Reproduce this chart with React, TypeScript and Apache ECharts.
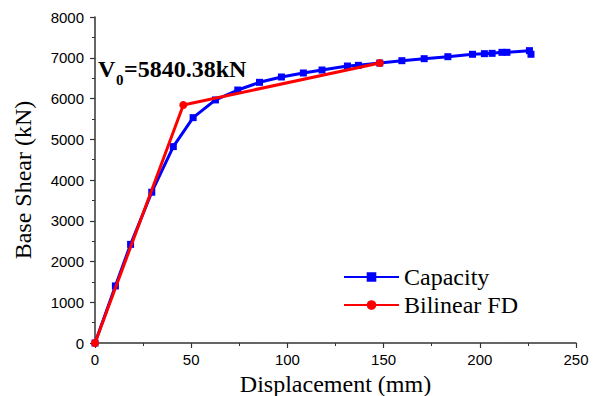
import React, { useEffect, useRef } from "react";
import * as echarts from "echarts";

const capacityX = [0, 10.6, 18.5, 29.5, 40.7, 51, 62.6, 74.2, 85.5, 96.9, 108.3, 118, 131.2, 136.9, 148, 159.5, 171.1, 183.4, 196.2, 202.4, 206.4, 211.5, 214.1, 225.8, 226.6];
const capacityY = [0, 1400, 2420, 3700, 4820, 5530, 5965, 6208, 6397, 6528, 6626, 6699, 6797, 6814, 6870, 6928, 6977, 7026, 7085, 7100, 7108, 7133, 7133, 7174, 7085];
const bilinearX = [0, 45.9, 148];
const bilinearY = [0, 5840.38, 6870];

const serif = "Liberation Serif";
const sans = "Liberation Sans";

export default function App() {
  const ref = useRef<HTMLDivElement>(null);
  useEffect(() => {
    if (!ref.current) return;
    const chart = echarts.init(ref.current, null, { renderer: "svg" });
    const axisCommon = {
      axisLine: { show: true, lineStyle: { color: "#333", width: 1.5 } },
      axisTick: { show: true, inside: false, length: 5, lineStyle: { color: "#333", width: 1.2 } },
      minorTick: { show: true, splitNumber: 2, length: 3, lineStyle: { color: "#333", width: 1 } },
      splitLine: { show: false },
      minorSplitLine: { show: false },
    };
    const nameStyle = { color: "#000", fontFamily: serif, fontSize: 24, fontWeight: "normal" };
    const labelCommon = {
      color: "#000",
      fontFamily: sans,
      fontSize: 15,
      formatter: (v: number) => String(v),
    };
    chart.setOption({
      animation: false,
      backgroundColor: "#fff",
      grid: { left: 95, right: 17, top: 17, bottom: 53, containLabel: false, outerBoundsMode: "none" },
      xAxis: {
        type: "value",
        min: 0,
        max: 250,
        interval: 50,
        name: "Displacement (mm)",
        nameLocation: "middle",
        nameGap: 23,
        nameTextStyle: nameStyle,
        ...axisCommon,
        axisLabel: { ...labelCommon, margin: 9 },
      },
      yAxis: {
        type: "value",
        min: 0,
        max: 8000,
        interval: 1000,
        name: "Base Shear (kN)",
        nameLocation: "middle",
        nameGap: 60,
        nameTextStyle: nameStyle,
        ...axisCommon,
        axisLabel: { ...labelCommon, margin: 11 },
      },
      legend: {
        orient: "vertical",
        left: 338,
        top: 260,
        itemWidth: 55,
        itemHeight: 12,
        itemGap: 4,
        textStyle: { fontFamily: serif, fontSize: 24, color: "#000" },
        data: ["Capacity", "Bilinear FD"],
      },
      series: [
        {
          name: "Capacity",
          type: "line",
          data: capacityX.map((x, i) => [x, capacityY[i]]),
          symbol: "rect",
          symbolSize: 7,
          lineStyle: { color: "#0000ff", width: 3 },
          itemStyle: { color: "#0000ff" },
          z: 2,
        },
        {
          name: "Bilinear FD",
          type: "line",
          data: bilinearX.map((x, i) => [x, bilinearY[i]]),
          symbol: "circle",
          symbolSize: 8,
          lineStyle: { color: "#ff0000", width: 3 },
          itemStyle: { color: "#ff0000" },
          z: 3,
        },
      ],
      graphic: [
        {
          type: "text",
          left: 98,
          top: 57,
          style: { text: "V", font: "bold 24px Liberation Serif", fill: "#000" },
        },
        {
          type: "text",
          left: 116,
          top: 72,
          style: { text: "0", font: "bold 15px Liberation Serif", fill: "#000" },
        },
        {
          type: "text",
          left: 124,
          top: 57,
          style: { text: "=5840.38kN", font: "bold 24px Liberation Serif", fill: "#000" },
        },
      ],
    });
    return () => chart.dispose();
  }, []);
  return <div ref={ref} style={{ position: "fixed", left: 0, top: 0, width: 593, height: 396 }} />;
}
